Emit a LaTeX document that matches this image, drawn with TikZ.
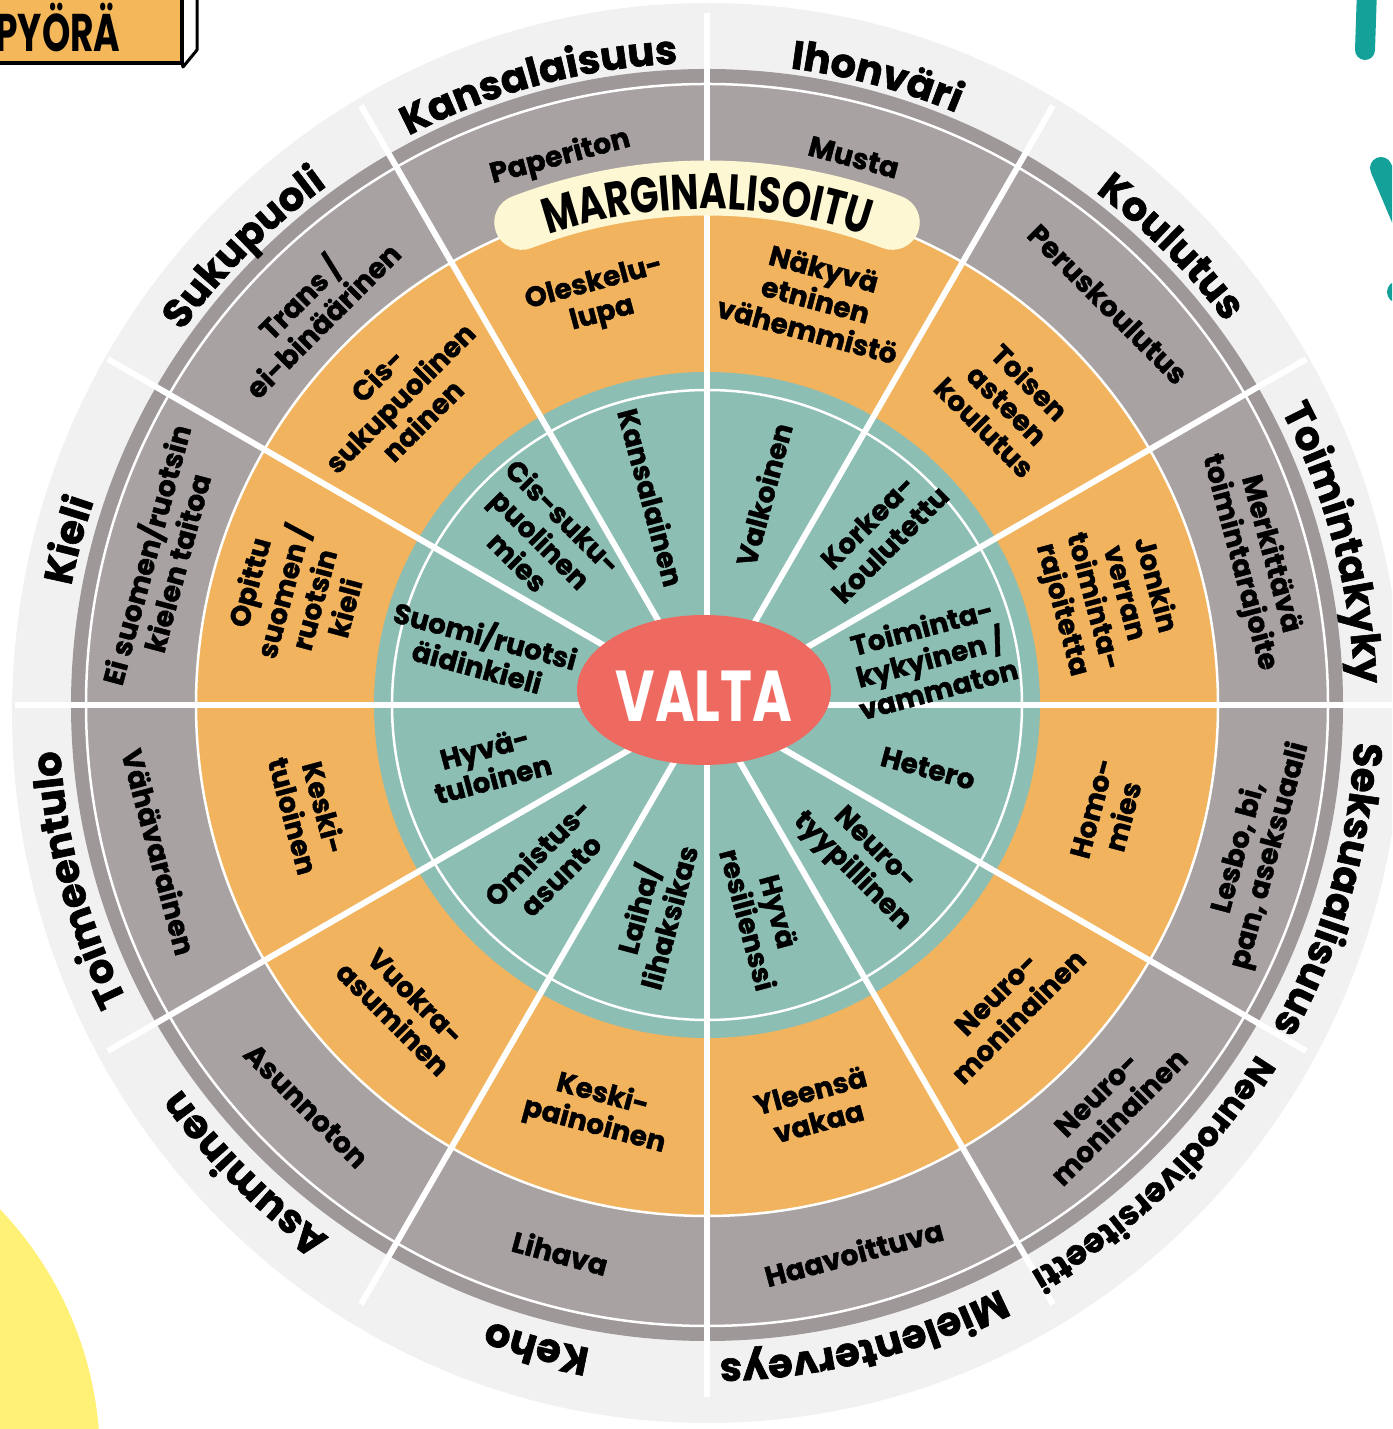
\documentclass[tikz,border=0pt]{standalone}
\usepackage{fontspec}
\setmainfont{Poppins}[BoldFeatures={FakeBold=1.5}]
\newfontfamily\dispfont{Poppins}[FakeStretch=0.75]
\newfontfamily\narrowfont{Poppins}[FakeStretch=0.68]
\usetikzlibrary{decorations.text}

\definecolor{ringlight}{HTML}{F2F1F1}
\definecolor{ringband}{HTML}{9E9899}
\definecolor{ringgrey}{HTML}{A9A2A3}
\definecolor{ringorange}{HTML}{F1B35E}
\definecolor{ringteal}{HTML}{8DBEB3}
\definecolor{valtared}{HTML}{EE6A61}
\definecolor{bannercream}{HTML}{FDF8D3}
\definecolor{dotyellow}{HTML}{FFF176}
\definecolor{markteal}{HTML}{14A19A}
\definecolor{boxorange}{HTML}{F4B759}

\newcommand\outerfont{\fontsize{40}{40}\selectfont\bfseries}
\newcommand\smallouterfont{\fontsize{34}{34}\selectfont\bfseries}
\tikzset{outer label/.style={decorate,
    decoration={text along path, text align=center, text={|\outerfont|#1}}}}

\begin{document}
\begin{tikzpicture}[x=1pt,y=1pt]
	\tikzstyle{divider}=[white, line width=6pt]
	\tikzstyle{thin ring}=[draw=white, line width=2.5pt]
	\tikzstyle{grey label}=[align=center, font=\fontsize{28.5}{32}\selectfont\bfseries]
	\tikzstyle{orange label}=[align=center, font=\fontsize{28}{32}\selectfont\bfseries]
	\tikzstyle{teal label}=[align=center, font=\fontsize{28}{32}\selectfont\bfseries]

	\useasboundingbox (0,0) rectangle (1392,1429);
	\clip (0,0) rectangle (1392,1429);

	% corner decorations
	\fill[dotyellow] (-262,-30) circle[radius=362];
	\draw[markteal, line width=20pt, line cap=round] (1367,1440) -- (1365,1379);
	\draw[markteal, line width=22pt, line cap=round] (1381,1261) -- (1405,1204);
	\fill[markteal] (1398,1137) circle[radius=11];
	\filldraw[fill=white, draw=black, line width=3pt, line join=round]
		(182,1435) -- (197,1435) -- (197,1379) -- (183,1362) -- (182,1366) -- cycle;
	\filldraw[fill=boxorange, draw=black, line width=4pt] (-20,1366) rectangle (182,1440);
	\node[font=\narrowfont\bfseries\fontsize{53}{53}\selectfont, anchor=east] (pyora) at (124,1401) {PYÖRÄ};

	\begin{scope}[shift={(707,724)}]
		% rings
		\fill[ringlight] (0,-8) ellipse[x radius=695, y radius=710];
		\fill[ringband] (0,0) circle[radius=636];
		\filldraw[fill=ringgrey, thin ring] (0,0) circle[radius=621];
		\filldraw[fill=ringorange, thin ring] (0,0) circle[radius=511];
		\fill[ringteal] (0,0) circle[radius=333];
		\draw[thin ring] (0,0) circle[radius=315];
		\foreach \a in {0,30,...,330}
			\draw[divider] (0,0) -- (\a:692);

		% marginalisoitu banner
		\draw[bannercream, line width=55pt, line cap=round] (111:517) arc[start angle=111, end angle=69, radius=517];
		\path[decorate, decoration={text along path, text align=center,
			text={|\dispfont\bfseries\fontsize{50}{50}\selectfont|MARGINALISOITU}}]
			(125:496) arc[start angle=125, end angle=55, radius=496];

		% centre
		\fill[valtared] (-3,15) ellipse[x radius=127, y radius=75];
		\node[font=\dispfont\bfseries\fontsize{72}{72}\selectfont, text=white] (valta) at (-3,9) {VALTA};

		% outer ring
		\begin{scope}[shift={(0,-6)}]
			\path[outer label=Kansalaisuus] (135:648) arc[start angle=135, end angle=75, radius=648];
			\path[outer label=Ihonväri] (105:648) arc[start angle=105, end angle=45, radius=648];
			\path[outer label=Koulutus] (75:648) arc[start angle=75, end angle=15, radius=648];
			\path[outer label=Toimintakyky] (45:648) arc[start angle=45, end angle=-15, radius=648];
			\path[outer label=Seksuaalisuus] (14:648) arc[start angle=14, end angle=-46, radius=648];
			\path[decorate, decoration={text along path, text align=center,
				text={|\smallouterfont|Neurodiversiteetti}}]
				(-16:648) arc[start angle=-16, end angle=-76, radius=648];
			\path[outer label=Mielenterveys] (-46:648) arc[start angle=-46, end angle=-106, radius=648];
			\path[outer label=Keho] (-75:648) arc[start angle=-75, end angle=-135, radius=648];
			\path[outer label=Asuminen] (-105:648) arc[start angle=-105, end angle=-165, radius=648];
			\path[outer label=Toimeentulo] (-135:648) arc[start angle=-135, end angle=-195, radius=648];
			\path[outer label=Kieli] (195:648) arc[start angle=195, end angle=135, radius=648];
			\path[outer label=Sukupuoli] (165:648) arc[start angle=165, end angle=105, radius=648];
		\end{scope}

		% grey ring
		\node[grey label, rotate=15] (paperiton) at (105:567) {Paperiton};
		\node[grey label, rotate=-15] (musta) at (75:567) {Musta};
		\node[grey label, rotate=-45] (peruskoulutus) at (45:567) {Peruskoulutus};
		\node[grey label, rotate=-75] (merkittava) at (15:567) {Merkittävä\\toimintarajoite};
		\node[grey label, rotate=75] (lesbo) at (-15:567) {Lesbo, bi,\\pan, aseksuaali};
		\node[grey label, rotate=45] (neuro grey) at (-45:567) {Neuro-\\moninainen};
		\node[grey label, rotate=15] (haavoittuva) at (-75:567) {Haavoittuva};
		\node[grey label, rotate=-15] (lihava) at (-105:567) {Lihava};
		\node[grey label, rotate=-45] (asunnoton) at (-135:567) {Asunnoton};
		\node[grey label, rotate=-75] (vahavarainen) at (-165:567) {Vähävarainen};
		\node[grey label, rotate=75] (ei suomen) at (165:567) {Ei suomen/ruotsin\\kielen taitoa};
		\node[grey label, rotate=45] (trans) at (135:562) {Trans /\\ei-binäärinen};

		% orange ring
		\node[orange label, rotate=15] (oleskelu) at (105:420) {Oleskelu-\\lupa};
		\node[orange label, rotate=-15] (nakyva) at (75:420) {Näkyvä\\etninen\\vähemmistö};
		\node[orange label, rotate=-45] (toisen aste) at (45:425) {Toisen\\asteen\\koulutus};
		\node[orange label, rotate=-75] (jonkin verran) at (15:415) {Jonkin\\verran\\toiminta-\\rajoitetta};
		\node[orange label, rotate=75] (homo) at (-15:415) {Homo-\\mies};
		\node[orange label, rotate=45] (neuro orange) at (-45:425) {Neuro-\\moninainen};
		\node[orange label, rotate=15] (yleensa) at (-75:415) {Yleensä\\vakaa};
		\node[orange label, rotate=-15] (keski paino) at (-105:420) {Keski-\\painoinen};
		\node[orange label, rotate=-45] (vuokra) at (-135:428) {Vuokra-\\asuminen};
		\node[orange label, rotate=-75] (keski tulo) at (-165:412) {Keski-\\tuloinen};
		\node[orange label, rotate=75] (opittu) at (165:425) {Opittu\\suomen /\\ruotsin\\kieli};
		\node[orange label, rotate=45] (cis nainen) at (135:435) {Cis-\\sukupuolinen\\nainen};

		% teal ring
		\node[teal label, rotate=-75] (kansalainen) at (105:215) {Kansalainen};
		\node[teal label, rotate=75] (valkoinen) at (75:218) {Valkoinen};
		\node[teal label, rotate=45] (korkea) at (45:243) {Korkea-\\koulutettu};
		\node[teal label, rotate=15] (toimintakykyinen) at (12:228) {Toiminta-\\kykyinen /\\vammaton};
		\node[teal label, rotate=-15] (hetero) at (-16:230) {Hetero};
		\node[teal label, rotate=-45] (neurotyyppi) at (-45:220) {Neuro-\\tyypillinen};
		\node[teal label, rotate=-75] (resilienssi) at (-75:218) {Hyvä\\resilienssi};
		\node[teal label, rotate=75] (laiha) at (-105:215) {Laiha/\\lihaksikas};
		\node[teal label, rotate=45] (omistus) at (-135:224) {Omistus-\\asunto};
		\node[teal label, rotate=15] (hyvatulo) at (-165:226) {Hyvä-\\tuloinen};
		\node[teal label, rotate=-15] (aidinkieli) at (166:232) {Suomi/ruotsi\\äidinkieli};
		\node[teal label, rotate=-45] (cis mies) at (135:235) {Cis-suku-\\puolinen\\mies};
	\end{scope}
\end{tikzpicture}
\end{document}
